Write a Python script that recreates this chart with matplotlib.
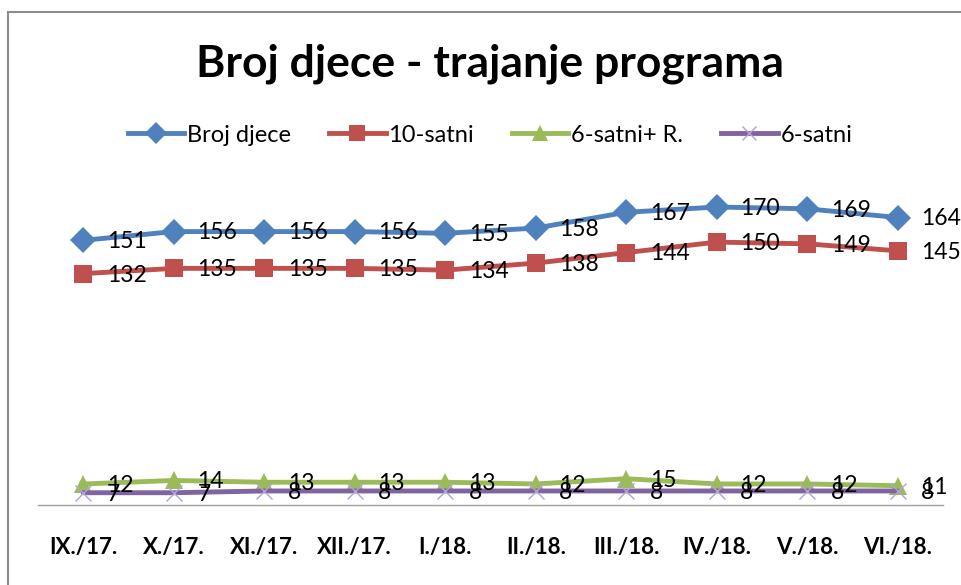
import matplotlib
matplotlib.use("Agg")
import matplotlib.pyplot as plt
from matplotlib.patches import Rectangle
from matplotlib.lines import Line2D

plt.rcParams['font.family'] = ['Lato', 'DejaVu Sans']

categories = ["IX./17.", "X./17.", "XI./17.", "XII./17.", "I./18.",
              "II./18.", "III./18.", "IV./18.", "V./18.", "VI./18."]
broj_djece = [151, 156, 156, 156, 155, 158, 167, 170, 169, 164]
satni_10 = [132, 135, 135, 135, 134, 138, 144, 150, 149, 145]
satni_6R = [12, 14, 13, 13, 13, 12, 15, 12, 12, 11]
satni_6 = [7, 7, 8, 8, 8, 8, 8, 8, 8, 8]
series_names = ["Broj djece", "10-satni", "6-satni+ R.", "6-satni"]

W, H = 961, 585
fig = plt.figure(figsize=(W / 100, H / 100), dpi=100)
fig.patch.set_facecolor('white')

# chart border
fig.add_artist(Rectangle((8 / W, -0.2), 2, 1.2 - 12 / H, transform=fig.transFigure,
                         fill=False, edgecolor='#8c8c8c', lw=1.5))

ax = fig.add_axes([38 / W, 80 / H, 905 / W, 315.5 / H])
ax.set_xlim(-0.5, len(categories) - 0.5)
ax.set_ylim(0, 180)
x = list(range(len(categories)))

styles = [
    (broj_djece, '#4F81BD', 'D', 13, '#4F81BD'),
    (satni_10, '#C0504D', 's', 13.5, '#C0504D'),
    (satni_6R, '#9BBB59', '^', 13, '#9BBB59'),
    (satni_6, '#8064A2', 'x', 12, '#B3A2D3'),
]
handles = []
for (vals, col, mk, ms, mcol), name in zip(styles, series_names):
    mew = 1.0 if mk == 'x' else 0
    ax.plot(x, vals, color=col, lw=3.5, marker=mk, markersize=ms,
            markerfacecolor=mcol, markeredgecolor=mcol, markeredgewidth=mew,
            solid_capstyle='round', zorder=3)
    handles.append(Line2D([], [], color=col, lw=3.5, marker=mk, markersize=ms * 0.85,
                          markerfacecolor=mcol, markeredgecolor=mcol, markeredgewidth=mew))
    for xi, v in zip(x, vals):
        ax.annotate(str(v), (xi, v), xytext=(17, -1), textcoords='offset points',
                    ha='left', va='center', fontsize=16.5, color='black', zorder=4,
                    annotation_clip=False)

for s in ['top', 'right', 'left']:
    ax.spines[s].set_visible(False)
ax.spines['bottom'].set_color('#a0a0a0')
ax.spines['bottom'].set_linewidth(1)
ax.set_yticks([])
ax.set_xticks(x)
ax.set_xticklabels(categories, fontsize=16, fontweight='bold')
ax.tick_params(axis='x', length=0, pad=23)
ax.patch.set_alpha(0)

fig.text(490 / W, 1 - 64 / H, "Broj djece - trajanje programa", ha='center', va='center',
         fontsize=32, fontweight='bold')

fig.legend(handles, series_names, loc='center', bbox_to_anchor=(490 / W, 1 - 135 / H),
           ncol=4, frameon=False, fontsize=17, handlelength=2.4, handletextpad=0.12,
           columnspacing=1.6)

fig.savefig('out.png', dpi=100)
